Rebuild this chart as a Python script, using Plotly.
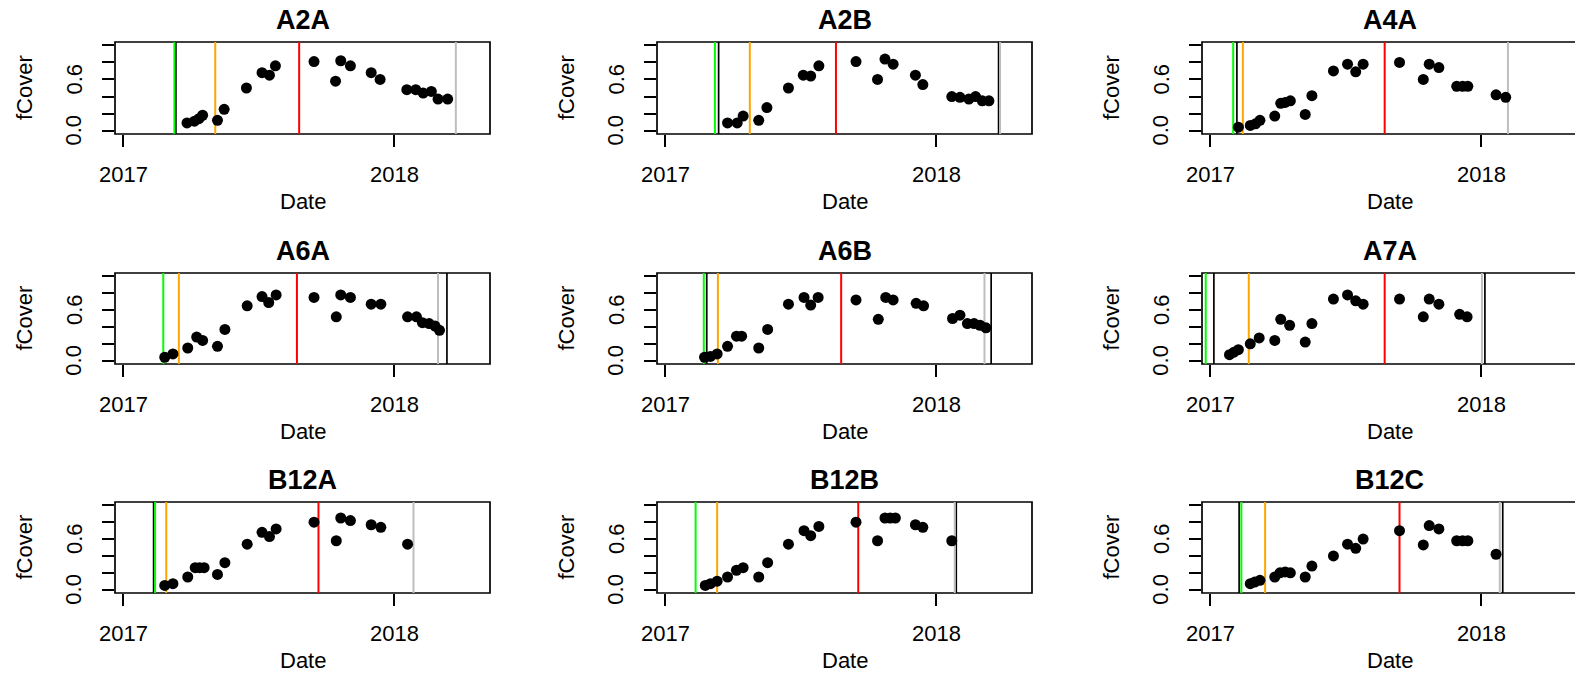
import pandas as pd
import plotly.graph_objects as go

# ---- panel names (3 x 3 grid, row by row) ----
PANELS = ["A2A", "A2B", "A4A", "A6A", "A6B", "A7A", "B12A", "B12B", "B12C"]

# ---- fCover time series per plot ----
A2A_DATES = ["2017-03-28", "2017-04-07", "2017-04-13", "2017-04-18", "2017-05-08", "2017-05-17",
             "2017-06-16", "2017-07-07", "2017-07-17", "2017-07-25", "2017-09-15", "2017-10-14",
             "2017-10-21", "2017-11-03", "2017-12-01", "2017-12-13", "2018-01-18", "2018-01-30",
             "2018-02-09", "2018-02-20", "2018-03-01", "2018-03-14"]
A2A_FCOVER = [0.09, 0.11, 0.14, 0.18, 0.12, 0.25, 0.50, 0.68, 0.65, 0.76, 0.81, 0.58,
              0.82, 0.76, 0.68, 0.60, 0.48, 0.48, 0.44, 0.46, 0.37, 0.37]

A2B_DATES = ["2017-03-26", "2017-04-08", "2017-04-16", "2017-05-07", "2017-05-18", "2017-06-16",
             "2017-07-06", "2017-07-16", "2017-07-27", "2017-09-15", "2017-10-14", "2017-10-24",
             "2017-11-04", "2017-12-04", "2017-12-14", "2018-01-22", "2018-02-02", "2018-02-14",
             "2018-02-23", "2018-03-04", "2018-03-13"]
A2B_FCOVER = [0.09, 0.09, 0.17, 0.12, 0.27, 0.50, 0.65, 0.64, 0.76, 0.81, 0.60, 0.84,
              0.78, 0.65, 0.54, 0.40, 0.39, 0.37, 0.40, 0.35, 0.35]

A4A_DATES = ["2017-02-08", "2017-02-24", "2017-03-03", "2017-03-09", "2017-03-29", "2017-04-06",
             "2017-04-12", "2017-04-19", "2017-05-09", "2017-05-18", "2017-06-16", "2017-07-05",
             "2017-07-16", "2017-07-26", "2017-09-13", "2017-10-15", "2017-10-23", "2017-11-05",
             "2017-11-29", "2017-12-07", "2017-12-14", "2018-01-21", "2018-02-03"]
A4A_FCOVER = [0.04, 0.06, 0.08, 0.12, 0.17, 0.32, 0.33, 0.35, 0.19, 0.41, 0.70, 0.78,
              0.69, 0.78, 0.80, 0.60, 0.78, 0.74, 0.52, 0.52, 0.52, 0.42, 0.39]

A6A_DATES = ["2017-02-26", "2017-03-09", "2017-03-29", "2017-04-10", "2017-04-18", "2017-05-08",
             "2017-05-18", "2017-06-17", "2017-07-07", "2017-07-16", "2017-07-26", "2017-09-15",
             "2017-10-15", "2017-10-21", "2017-11-03", "2017-12-01", "2017-12-14", "2018-01-19",
             "2018-01-31", "2018-02-08", "2018-02-17", "2018-02-25", "2018-03-03"]
A6A_FCOVER = [0.04, 0.08, 0.15, 0.28, 0.24, 0.17, 0.37, 0.65, 0.76, 0.69, 0.78, 0.75,
              0.52, 0.78, 0.75, 0.67, 0.67, 0.52, 0.52, 0.45, 0.44, 0.41, 0.36]

A6B_DATES = ["2017-02-23", "2017-03-03", "2017-03-12", "2017-03-26", "2017-04-07", "2017-04-14",
             "2017-05-07", "2017-05-19", "2017-06-16", "2017-07-07", "2017-07-16", "2017-07-26",
             "2017-09-15", "2017-10-15", "2017-10-25", "2017-11-04", "2017-12-05", "2017-12-15",
             "2018-01-23", "2018-02-02", "2018-02-12", "2018-02-21", "2018-03-01", "2018-03-09"]
A6B_FCOVER = [0.04, 0.05, 0.08, 0.17, 0.29, 0.29, 0.15, 0.37, 0.67, 0.75, 0.66, 0.75,
              0.72, 0.49, 0.75, 0.72, 0.68, 0.65, 0.50, 0.54, 0.44, 0.44, 0.42, 0.39]

A7A_DATES = ["2017-01-27", "2017-02-02", "2017-02-08", "2017-02-24", "2017-03-08", "2017-03-29",
             "2017-04-06", "2017-04-18", "2017-05-09", "2017-05-18", "2017-06-16", "2017-07-05",
             "2017-07-16", "2017-07-26", "2017-09-13", "2017-10-15", "2017-10-23", "2017-11-05",
             "2017-12-03", "2017-12-13"]
A7A_FCOVER = [0.07, 0.10, 0.13, 0.20, 0.27, 0.24, 0.49, 0.42, 0.22, 0.44, 0.73, 0.78,
              0.71, 0.67, 0.73, 0.52, 0.73, 0.67, 0.55, 0.52]

B12A_DATES = ["2017-02-26", "2017-03-09", "2017-03-29", "2017-04-08", "2017-04-14", "2017-04-20",
              "2017-05-08", "2017-05-18", "2017-06-17", "2017-07-07", "2017-07-17", "2017-07-26",
              "2017-09-15", "2017-10-15", "2017-10-21", "2017-11-03", "2017-12-01", "2017-12-14",
              "2018-01-19"]
B12A_FCOVER = [0.05, 0.07, 0.15, 0.26, 0.26, 0.26, 0.18, 0.32, 0.54, 0.68, 0.63, 0.72,
               0.80, 0.58, 0.85, 0.82, 0.77, 0.74, 0.54]

B12B_DATES = ["2017-02-24", "2017-03-03", "2017-03-12", "2017-03-26", "2017-04-07", "2017-04-16",
              "2017-05-07", "2017-05-19", "2017-06-16", "2017-07-07", "2017-07-16", "2017-07-27",
              "2017-09-15", "2017-10-14", "2017-10-24", "2017-10-31", "2017-11-07", "2017-12-04",
              "2017-12-14", "2018-01-22"]
B12B_FCOVER = [0.05, 0.07, 0.10, 0.15, 0.23, 0.26, 0.15, 0.32, 0.54, 0.70, 0.64, 0.75,
               0.80, 0.58, 0.85, 0.85, 0.85, 0.77, 0.74, 0.58]

B12C_DATES = ["2017-02-24", "2017-03-02", "2017-03-09", "2017-03-29", "2017-04-05", "2017-04-12",
              "2017-04-19", "2017-05-09", "2017-05-18", "2017-06-16", "2017-07-05", "2017-07-16",
              "2017-07-26", "2017-09-13", "2017-10-15", "2017-10-23", "2017-11-05", "2017-11-29",
              "2017-12-07", "2017-12-14", "2018-01-21"]
B12C_FCOVER = [0.07, 0.09, 0.11, 0.15, 0.20, 0.21, 0.20, 0.15, 0.28, 0.40, 0.54, 0.49,
               0.60, 0.70, 0.53, 0.76, 0.72, 0.58, 0.58, 0.58, 0.42]

SERIES_DATES = [A2A_DATES, A2B_DATES, A4A_DATES, A6A_DATES, A6B_DATES, A7A_DATES,
                B12A_DATES, B12B_DATES, B12C_DATES]
SERIES_FCOVER = [A2A_FCOVER, A2B_FCOVER, A4A_FCOVER, A6A_FCOVER, A6B_FCOVER, A7A_FCOVER,
                 B12A_FCOVER, B12B_FCOVER, B12C_FCOVER]

# ---- event dates marked with vertical lines (one per panel) ----
GREEN_DATES = ["2017-03-11", "2017-03-09", "2017-02-01", "2017-02-24", "2017-02-22",
               "2016-12-26", "2017-02-13", "2017-02-11", "2017-02-12"]
ORANGE_DATES = ["2017-05-05", "2017-04-25", "2017-02-14", "2017-03-17", "2017-03-13",
                "2017-02-22", "2017-02-28", "2017-03-12", "2017-03-16"]
RED_DATES = ["2017-08-26", "2017-08-19", "2017-08-24", "2017-08-23", "2017-08-26",
             "2017-08-24", "2017-09-21", "2017-09-18", "2017-09-13"]
GRAY_DATES = ["2018-03-25", "2018-03-28", "2018-02-06", "2018-03-01", "2018-03-07",
              "2018-01-02", "2018-01-27", "2018-01-26", "2018-01-26"]
BLACK_DATES = [["2017-03-13"], ["2017-03-14", "2018-03-26"], ["2017-02-06"],
               ["2018-03-13"], ["2017-02-26", "2018-03-16"], ["2017-01-06", "2018-01-06"],
               ["2017-02-11"], ["2018-01-28"], ["2017-02-09", "2018-01-30"]]

X_TICKS = ["2017-01-01", "2018-01-01"]
X_TICK_TEXT = ["2017", "2018"]
Y_TICKS = [0.0, 0.2, 0.4, 0.6, 0.8, 1.0]
Y_LABELED = [0.0, 0.6]
Y_LABEL_TEXT = ["0.0", "0.6"]

# ---- page geometry (pixels) ----
W, H = 1575, 674
COL_LEFT = [115, 657, 1202]
BOX_W = 375
ROW_TOP = [42, 273, 502]
ROW_H = [92, 91, 91]
X_START = pd.Timestamp("2016-12-21")
X_SPAN_DAYS = 505.0  # days covered by one full box width
Y_RANGE = [-0.04, 1.04]

FONT = "Liberation Sans, Arial, Helvetica, sans-serif"
LABEL_SIZE = 22
TITLE_SIZE = 27
COLORS = {"green": "#00ff00", "orange": "#ffa500", "red": "#ff0000", "gray": "#bebebe"}

fig = go.Figure()
shapes = []
annotations = []

for i, name in enumerate(PANELS):
    r, c = divmod(i, 3)
    n = i + 1
    xa = "x" if n == 1 else f"x{n}"
    ya = "y" if n == 1 else f"y{n}"
    left = COL_LEFT[c]
    right = min(left + BOX_W, W)
    vis_w = right - left
    top = ROW_TOP[r]
    bottom = top + ROW_H[r]

    x_end = X_START + pd.Timedelta(days=X_SPAN_DAYS * vis_w / BOX_W)
    axis_common = dict(showgrid=False, zeroline=False, showline=False, ticks="outside",
                       ticklen=12, tickwidth=1.6, tickcolor="black", showticklabels=False)
    fig.update_layout(**{
        ("xaxis" if n == 1 else f"xaxis{n}"): dict(
            domain=[left / W, right / W], anchor=ya, type="date",
            range=[X_START, x_end], tickvals=X_TICKS, **axis_common),
        ("yaxis" if n == 1 else f"yaxis{n}"): dict(
            domain=[1 - bottom / H, 1 - top / H], anchor=xa,
            range=Y_RANGE, tickvals=Y_TICKS, **axis_common),
    })

    # plot box
    shapes.append(dict(type="rect", xref=f"{xa} domain", yref=f"{ya} domain",
                       x0=0, x1=BOX_W / vis_w, y0=0, y1=1,
                       line=dict(color="black", width=1.7), layer="below"))

    # vertical event lines
    def vline(date, color, width):
        shapes.append(dict(type="line", xref=xa, yref=f"{ya} domain",
                           x0=date, x1=date, y0=0, y1=1,
                           line=dict(color=color, width=width), layer="below"))

    for d in BLACK_DATES[i]:
        vline(d, "black", 1.7)
    vline(GREEN_DATES[i], COLORS["green"], 2)
    vline(ORANGE_DATES[i], COLORS["orange"], 2)
    vline(RED_DATES[i], COLORS["red"], 2)
    vline(GRAY_DATES[i], COLORS["gray"], 2)

    fig.add_trace(go.Scatter(
        x=SERIES_DATES[i], y=SERIES_FCOVER[i], mode="markers",
        marker=dict(color="black", size=11), xaxis=xa, yaxis=ya,
        showlegend=False, hoverinfo="skip"))

    cx = 0.5 * BOX_W / vis_w
    # panel title
    annotations.append(dict(text=f"<b>{name}</b>", xref=f"{xa} domain", yref=f"{ya} domain",
                            x=cx, y=1, yshift=22, showarrow=False,
                            xanchor="center", yanchor="middle",
                            font=dict(family=FONT, size=TITLE_SIZE, color="black")))
    # axis titles
    annotations.append(dict(text="Date", xref=f"{xa} domain", yref=f"{ya} domain",
                            x=cx, y=0, yshift=-67, showarrow=False,
                            xanchor="center", yanchor="middle",
                            font=dict(family=FONT, size=LABEL_SIZE, color="black")))
    annotations.append(dict(text="fCover", xref=f"{xa} domain", yref=f"{ya} domain",
                            x=0, xshift=-91, y=0.5, showarrow=False, textangle=-90,
                            xanchor="center", yanchor="middle",
                            font=dict(family=FONT, size=LABEL_SIZE, color="black")))
    # tick labels
    for tv, tt in zip(X_TICKS, X_TICK_TEXT):
        annotations.append(dict(text=tt, xref=xa, yref=f"{ya} domain",
                                x=tv, y=0, yshift=-40, showarrow=False,
                                xanchor="center", yanchor="middle",
                                font=dict(family=FONT, size=LABEL_SIZE, color="black")))
    for tv, tt in zip(Y_LABELED, Y_LABEL_TEXT):
        annotations.append(dict(text=tt, xref=f"{xa} domain", yref=ya,
                                x=0, xshift=-41, y=tv, showarrow=False, textangle=-90,
                                xanchor="center", yanchor="middle",
                                font=dict(family=FONT, size=LABEL_SIZE, color="black")))

fig.update_layout(width=W, height=H, margin=dict(l=0, r=0, t=0, b=0),
                  paper_bgcolor="white", plot_bgcolor="white",
                  shapes=shapes, annotations=annotations, showlegend=False)

fig.write_html("out.html")
